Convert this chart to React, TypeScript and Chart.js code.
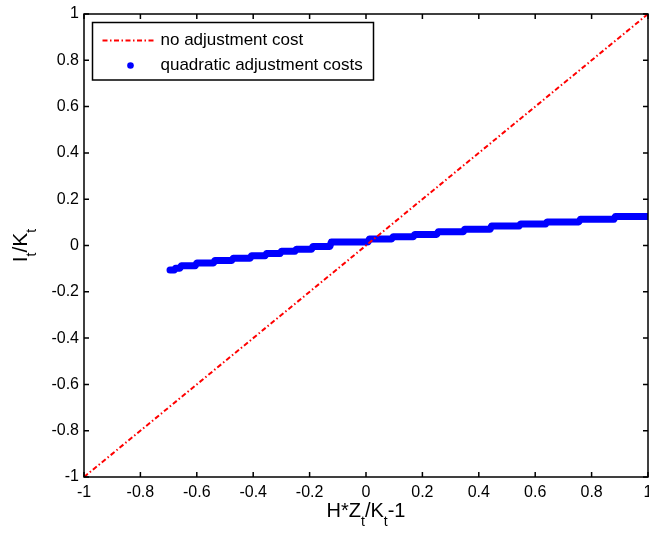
import React, { useEffect, useRef } from "react";
import { Chart, registerables } from "chart.js";

Chart.register(...registerables);

// ---- data ----
const xTickValues = [-1, -0.8, -0.6, -0.4, -0.2, 0, 0.2, 0.4, 0.6, 0.8, 1];
const xTickLabels = ["-1", "-0.8", "-0.6", "-0.4", "-0.2", "0", "0.2", "0.4", "0.6", "0.8", "1"];
const yTickValues = [-1, -0.8, -0.6, -0.4, -0.2, 0, 0.2, 0.4, 0.6, 0.8, 1];
const yTickLabels = ["-1", "-0.8", "-0.6", "-0.4", "-0.2", "0", "0.2", "0.4", "0.6", "0.8", "1"];

const seriesNames = ["no adjustment cost", "quadratic adjustment costs"];

// no adjustment cost: 45-degree line
const noAdjX = [-1, 1];
const noAdjY = [-1, 1];

// quadratic adjustment costs: stair-stepped dotted series (step start, step end, level)
const stepStart = [-0.695, -0.675, -0.655, -0.6, -0.536, -0.471, -0.406, -0.353, -0.3, -0.247, -0.188, -0.123, 0.012, 0.096, 0.173, 0.256, 0.35, 0.445, 0.548, 0.642, 0.76, 0.884];
const stepEnd = [-0.68, -0.66, -0.606, -0.541, -0.476, -0.411, -0.358, -0.305, -0.252, -0.193, -0.128, 0.007, 0.091, 0.168, 0.251, 0.345, 0.44, 0.543, 0.637, 0.755, 0.879, 1.0];
const stepLevel = [-0.106, -0.098, -0.088, -0.076, -0.065, -0.055, -0.044, -0.035, -0.025, -0.016, -0.004, 0.015, 0.028, 0.038, 0.048, 0.059, 0.07, 0.084, 0.093, 0.102, 0.113, 0.125];

const RED = "#ff0000";
const BLUE = "#0000ff";
const DASH = [5, 2.5, 1.5, 2.5];
const FONT = "'Liberation Sans', Arial, sans-serif";

function drawSubText(ctx: CanvasRenderingContext2D, parts: [string, boolean][], cx: number, baseY: number, mainSize: number, subSize: number, subDrop: number) {
  let total = 0;
  const widths = parts.map(([t, sub]) => {
    ctx.font = `${sub ? subSize : mainSize}px ${FONT}`;
    const w = ctx.measureText(t).width;
    total += w;
    return w;
  });
  let x = cx - total / 2;
  ctx.textAlign = "left";
  ctx.textBaseline = "alphabetic";
  parts.forEach(([t, sub], i) => {
    ctx.font = `${sub ? subSize : mainSize}px ${FONT}`;
    ctx.fillText(t, x, baseY + (sub ? subDrop : 0));
    x += widths[i];
  });
}

const framePlugin = {
  id: "matlabFrame",
  afterDraw(chart: any) {
    const { ctx, chartArea: a, scales } = chart;
    ctx.save();
    // frame box
    ctx.strokeStyle = "#000";
    ctx.lineWidth = 1.5;
    ctx.setLineDash([]);
    ctx.strokeRect(a.left, a.top, a.right - a.left, a.bottom - a.top);
    // inward ticks
    const tl = 5;
    ctx.beginPath();
    xTickValues.forEach((v) => {
      const px = scales.x.getPixelForValue(v);
      ctx.moveTo(px, a.bottom);
      ctx.lineTo(px, a.bottom - tl);
      ctx.moveTo(px, a.top);
      ctx.lineTo(px, a.top + tl);
    });
    yTickValues.forEach((v) => {
      const py = scales.y.getPixelForValue(v);
      ctx.moveTo(a.left, py);
      ctx.lineTo(a.left + tl, py);
      ctx.moveTo(a.right, py);
      ctx.lineTo(a.right - tl, py);
    });
    ctx.stroke();

    // legend
    const lx = a.left + 8.5;
    const ly = a.top + 8.5;
    const lw = 281;
    const lh = 57.5;
    ctx.fillStyle = "#fff";
    ctx.fillRect(lx, ly, lw, lh);
    ctx.strokeRect(lx, ly, lw, lh);
    const row1 = ly + 18;
    const row2 = ly + 43;
    ctx.strokeStyle = RED;
    ctx.lineWidth = 2;
    ctx.setLineDash(DASH);
    ctx.beginPath();
    ctx.moveTo(lx + 10, row1);
    ctx.lineTo(lx + 62, row1);
    ctx.stroke();
    ctx.setLineDash([]);
    ctx.fillStyle = BLUE;
    ctx.beginPath();
    ctx.arc(lx + 38, row2, 3.3, 0, Math.PI * 2);
    ctx.fill();
    ctx.fillStyle = "#000";
    ctx.font = `17px ${FONT}`;
    ctx.textAlign = "left";
    ctx.textBaseline = "middle";
    ctx.fillText(seriesNames[0], lx + 68, row1);
    ctx.fillText(seriesNames[1], lx + 68, row2);

    // axis titles with subscripts
    ctx.fillStyle = "#000";
    drawSubText(ctx, [["H*Z", false], ["t", true], ["/K", false], ["t", true], ["-1", false]], (a.left + a.right) / 2, 517, 20, 14, 9);
    ctx.save();
    ctx.translate(27, (a.top + a.bottom) / 2);
    ctx.rotate(-Math.PI / 2);
    drawSubText(ctx, [["I", false], ["t", true], ["/K", false], ["t", true]], 0, 0, 21, 14, 9);
    ctx.restore();

    ctx.restore();
  },
};

export default function App() {
  const ref = useRef<HTMLCanvasElement | null>(null);

  useEffect(() => {
    if (!ref.current) return;
    const quadData: { x: number; y: number }[] = [];
    stepStart.forEach((s, i) => {
      quadData.push({ x: s, y: stepLevel[i] });
      quadData.push({ x: stepEnd[i], y: stepLevel[i] });
    });
    const lineData = noAdjX.map((x, i) => ({ x, y: noAdjY[i] }));

    const chart = new Chart(ref.current, {
      type: "line",
      data: {
        datasets: [
          {
            label: seriesNames[0],
            data: lineData,
            borderColor: RED,
            borderWidth: 2,
            borderDash: DASH,
            pointRadius: 0,
            fill: false,
          },
          {
            label: seriesNames[1],
            data: quadData,
            borderColor: BLUE,
            backgroundColor: BLUE,
            borderWidth: 7,
            borderCapStyle: "round",
            borderJoinStyle: "round",
            pointRadius: 0,
            fill: false,
          },
        ],
      },
      options: {
        animation: false,
        responsive: false,
        maintainAspectRatio: false,
        parsing: false as any,
        layout: { padding: { top: 14, right: 1, left: 0, bottom: 0 }, autoPadding: false } as any,
        plugins: { legend: { display: false }, tooltip: { enabled: false } },
        scales: {
          x: {
            type: "linear",
            min: -1,
            max: 1,
            grid: { display: false, drawTicks: false },
            border: { display: false },
            afterFit: (s: any) => { s.height = 63; s.paddingLeft = 0; s.paddingRight = 0; },
            afterBuildTicks: (s: any) => { s.ticks = xTickValues.map((v) => ({ value: v })); },
            ticks: {
              padding: 6,
              color: "#000",
              font: { family: FONT, size: 16 },
              maxRotation: 0,
              autoSkip: false,
              callback: (_v: any, i: number) => xTickLabels[i],
            },
          },
          y: {
            type: "linear",
            min: -1,
            max: 1,
            grid: { display: false, drawTicks: false },
            border: { display: false },
            afterFit: (s: any) => { s.width = 84; s.paddingTop = 0; s.paddingBottom = 0; },
            afterBuildTicks: (s: any) => { s.ticks = yTickValues.map((v) => ({ value: v })); },
            ticks: {
              padding: 5,
              color: "#000",
              font: { family: FONT, size: 16 },
              autoSkip: false,
              callback: (_v: any, i: number) => yTickLabels[i],
            },
          },
        },
      },
      plugins: [framePlugin],
    });
    return () => chart.destroy();
  }, []);

  return (
    <div style={{ position: "absolute", left: 0, top: 0, width: 649, height: 540, background: "#fff" }}>
      <canvas ref={ref} width={649} height={540} style={{ width: 649, height: 540 }} />
    </div>
  );
}
